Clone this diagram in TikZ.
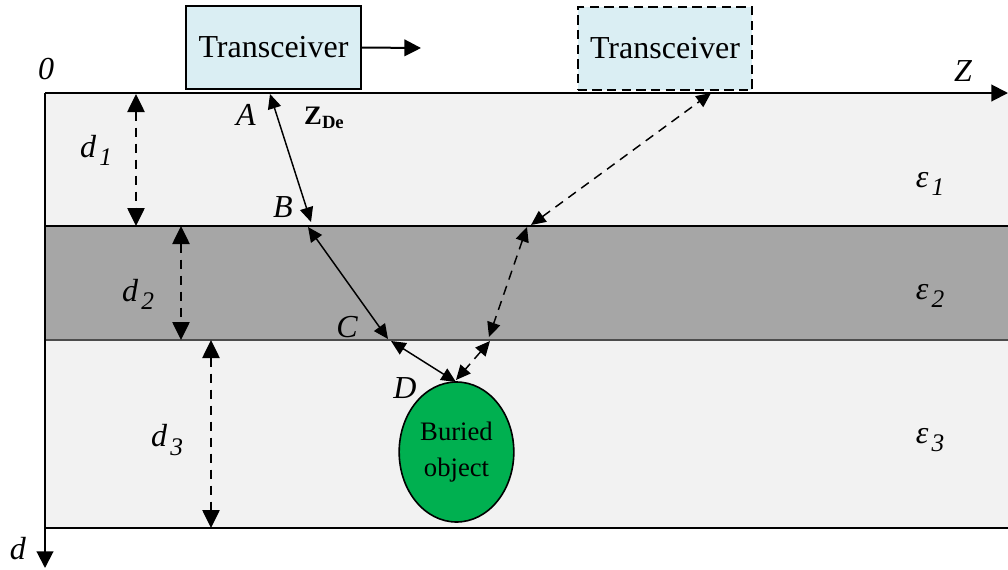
\documentclass[tikz,border=0pt]{standalone}
\usepackage{fontspec}
\setmainfont{Liberation Serif}
\usetikzlibrary{arrows.meta,shapes.geometric}
\definecolor{layerlight}{HTML}{F2F2F2}
\definecolor{layerdark}{HTML}{A6A6A6}
\definecolor{boxblue}{HTML}{DAEEF3}
\definecolor{objgreen}{HTML}{00B050}
\tikzset{
  bigtip/.style={-{Triangle[length=12.5pt,width=12.5pt]}},
  bothtips/.style={{Triangle[length=11pt,width=10pt]}-{Triangle[length=11pt,width=10pt]}, line width=1.1pt},
  raydash/.style={dash pattern=on 7pt off 5pt},
  dimarrow/.style={{Triangle[length=13.5pt,width=13pt]}-{Triangle[length=13.5pt,width=13pt]}, line width=1.1pt, dash pattern=on 7pt off 5pt},
  trbox/.style={draw, line width=1.5pt, fill=boxblue, minimum width=131pt, minimum height=62pt, inner sep=0pt, font=\fontsize{24}{28}\selectfont},
  lbl/.style={font=\fontsize{24}{28}\selectfont\itshape, inner sep=0pt},
}
\newcommand{\lsub}[2]{#1\hspace{0.1em}\raisebox{-0.55ex}{\fontsize{19}{21}\selectfont #2}}
\begin{document}
\begin{tikzpicture}[x=0.75pt,y=-0.75pt]
\useasboundingbox (0,0) rectangle (1008,569);
% layers
\fill[layerlight] (45,93) rectangle (1008,226);
\fill[layerdark] (45,226) rectangle (1008,340);
\fill[layerlight] (45,340) rectangle (1008,528);
\draw[line width=1pt] (45,226) -- (1008,226);
\draw[line width=0.8pt, draw=black!70] (45,340) -- (1008,340);
\draw[line width=1.2pt] (45,528) -- (1008,528);
% axes
\coordinate (O) at (45,93);
\coordinate (Zend) at (1008,93);
\coordinate (Dend) at (45,568);
\draw[line width=1.5pt, bigtip] (O) -- (Zend);
\draw[line width=1.5pt, bigtip] (O) -- (Dend);
\node[lbl] (zero) at (46,69) {0};
\node[lbl] (zlab) at (963,71) {Z};
\node[lbl] (dlab) at (18,549) {d};
% transceivers
\node[trbox] (t1) at (273.5,47.5) {Transceiver};
\node[trbox, dashed, dash pattern=on 7pt off 4pt] (t2) at (665,48.5) {Transceiver};
\coordinate (mv) at (421,48);
\draw[line width=1.5pt, bigtip] (t1.east) -- (mv);
% dimension arrows
\coordinate (d1t) at (136,94);
\coordinate (d1b) at (136,226);
\coordinate (d2t) at (181,226);
\coordinate (d2b) at (181,340);
\coordinate (d3t) at (211,340);
\coordinate (d3b) at (211,528);
\draw[dimarrow] (d1t) -- (d1b);
\draw[dimarrow] (d2t) -- (d2b);
\draw[dimarrow] (d3t) -- (d3b);
\node[lbl] (l1) at (96,150) {\lsub{d}{1}};
\node[lbl] (l2) at (138,294) {\lsub{d}{2}};
\node[lbl] (l3) at (167,440) {\lsub{d}{3}};
\node[lbl] (e1) at (930,184) {\lsub{ε}{1}};
\node[lbl] (e2) at (930,296) {\lsub{ε}{2}};
\node[lbl] (e3) at (930,440) {\lsub{ε}{3}};
% buried object
\node[ellipse, draw, line width=1.2pt, fill=objgreen, minimum width=86pt, minimum height=105pt, inner sep=0pt, align=center, font=\fontsize{20}{27}\selectfont] (obj) at (456.5,452) {Buried\\object};
% solid ray
\coordinate (A) at (270,94);
\coordinate (B1) at (311,222);
\coordinate (B2) at (308,227);
\coordinate (C1) at (388,339);
\coordinate (C2) at (391,341);
\coordinate (D) at (456,382);
\draw[bothtips] (B1) -- (A);
\draw[bothtips] (B2) -- (C1);
\draw[bothtips] (C2) -- (D);
\node[lbl] (la) at (246,115) {A};
\node[lbl] (lb) at (283,207) {B};
\node[lbl] (lc) at (347,327) {C};
\node[lbl] (ld) at (405,388) {D};
\node[inner sep=0pt, font=\fontsize{20}{22}\selectfont\bfseries] (zde) at (324,118) {Z\raisebox{-0.35ex}{\fontsize{14}{16}\selectfont De}};
% dashed ray
\coordinate (P) at (711,93);
\coordinate (Q1) at (531,225);
\coordinate (Q2) at (527,227);
\coordinate (R1) at (489,337);
\coordinate (R2) at (490,341);
\coordinate (S) at (456,380);
\draw[bothtips, raydash] (Q1) -- (P);
\draw[bothtips, raydash] (Q2) -- (R1);
\draw[bothtips, raydash] (R2) -- (S);
\end{tikzpicture}
\end{document}
